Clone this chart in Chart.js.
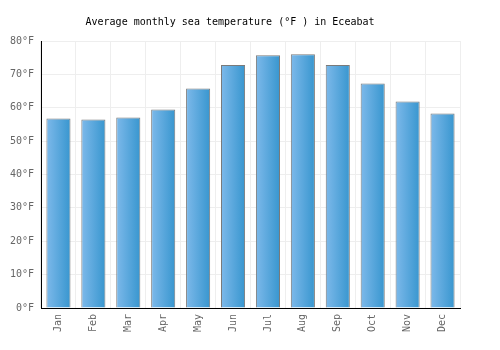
<!DOCTYPE html>
<html>
<head>
<meta charset="utf-8">
<script src="https://cdn.jsdelivr.net/npm/chart.js@4"></script>
<style>
  html, body { margin: 0; padding: 0; background: #fff; }
  #wrap { width: 500px; height: 350px; }
</style>
</head>
<body>
<div id="wrap"><canvas id="seaTempChart" width="500" height="350"></canvas></div>
<script>
const months = ['Jan', 'Feb', 'Mar', 'Apr', 'May', 'Jun', 'Jul', 'Aug', 'Sep', 'Oct', 'Nov', 'Dec'];
const seaTempF = [56.8, 56.5, 57.1, 59.5, 65.8, 72.8, 75.7, 76.0, 72.8, 67.3, 61.9, 58.3];
const yTicks = [0, 10, 20, 30, 40, 50, 60, 70, 80];

const monoFont = "'DejaVu Sans Mono', monospace";

// horizontal gradient per bar, light on the left, darker on the right
function barGradient(context) {
    const chart = context.chart;
    if (!chart.chartArea || !chart.scales.x) return '#5aa8dc';
    const x = chart.scales.x.getPixelForValue(context.dataIndex);
    const half = 12;
    const g = chart.ctx.createLinearGradient(x - half, 0, x + half, 0);
    g.addColorStop(0, '#7db9ea');
    g.addColorStop(1, '#3896cf');
    return g;
}

const ctx = document.getElementById('seaTempChart').getContext('2d');
new Chart(ctx, {
    type: 'bar',
    data: {
        labels: months,
        datasets: [{
            data: seaTempF,
            backgroundColor: barGradient,
            borderColor: '#7a7a7a',
            borderWidth: 1,
            barPercentage: 0.69,
            categoryPercentage: 1.0
        }]
    },
    options: {
        responsive: false,
        animation: false,
        layout: { padding: { left: 0, right: 40, top: 0, bottom: 0 } },
        plugins: {
            legend: { display: false },
            tooltip: { enabled: false },
            title: {
                display: true,
                text: 'Average monthly sea temperature (°F ) in Eceabat',
                color: '#000',
                font: { family: monoFont, size: 10, weight: 'normal' },
                padding: { top: 16, bottom: 13 }
            }
        },
        scales: {
            x: {
                offset: true,
                grid: { color: '#eeeeee', offset: true, drawTicks: false },
                border: { color: '#000', width: 1 },
                ticks: {
                    color: '#666',
                    font: { family: monoFont, size: 10 },
                    minRotation: 90,
                    maxRotation: 90,
                    padding: 6
                },
                afterFit: (scale) => { scale.height = 42; }
            },
            y: {
                min: 0,
                max: 80,
                afterBuildTicks: (scale) => { scale.ticks = yTicks.map(v => ({ value: v })); },
                grid: { color: '#eeeeee', drawTicks: false },
                border: { color: '#000', width: 1 },
                ticks: {
                    color: '#666',
                    font: { family: monoFont, size: 10 },
                    padding: 7,
                    callback: (v) => v + '°F'
                },
                afterFit: (scale) => { scale.width = 41; }
            }
        }
    }
});
</script>
</body>
</html>
